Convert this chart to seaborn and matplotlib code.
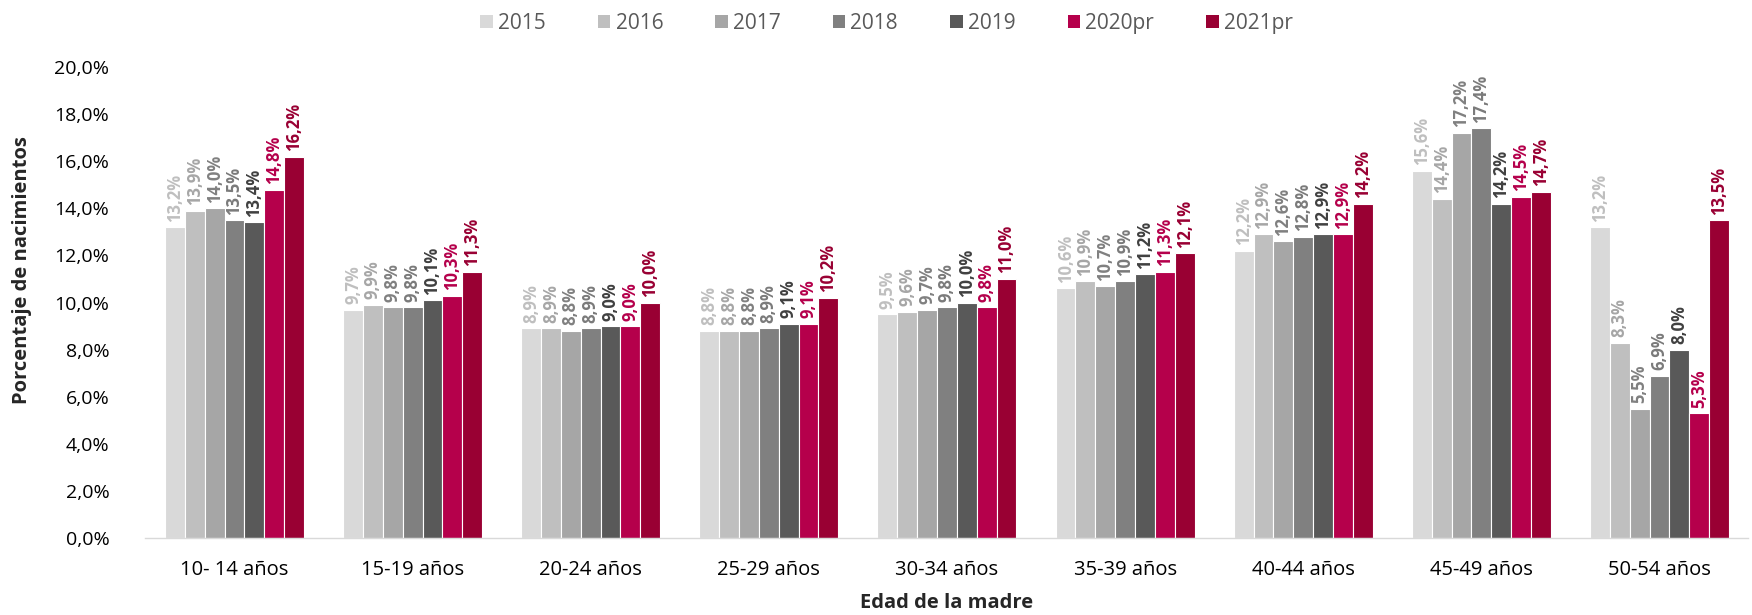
import matplotlib
matplotlib.use("Agg")
import matplotlib.pyplot as plt
import seaborn as sns
import pandas as pd
from matplotlib.patches import Patch

categories = ["10- 14 años", "15-19 años", "20-24 años", "25-29 años", "30-34 años",
              "35-39 años", "40-44 años", "45-49 años", "50-54 años"]
years = ["2015", "2016", "2017", "2018", "2019", "2020pr", "2021pr"]
v2015 = [13.2, 9.7, 8.9, 8.8, 9.5, 10.6, 12.2, 15.6, 13.2]
v2016 = [13.9, 9.9, 8.9, 8.8, 9.6, 10.9, 12.9, 14.4, 8.3]
v2017 = [14.0, 9.8, 8.8, 8.8, 9.7, 10.7, 12.6, 17.2, 5.5]
v2018 = [13.5, 9.8, 8.9, 8.9, 9.8, 10.9, 12.8, 17.4, 6.9]
v2019 = [13.4, 10.1, 9.0, 9.1, 10.0, 11.2, 12.9, 14.2, 8.0]
v2020 = [14.8, 10.3, 9.0, 9.1, 9.8, 11.3, 12.9, 14.5, 5.3]
v2021 = [16.2, 11.3, 10.0, 10.2, 11.0, 12.1, 14.2, 14.7, 13.5]
series = [v2015, v2016, v2017, v2018, v2019, v2020, v2021]

bar_colors = ["#d9d9d9", "#bfbfbf", "#a6a6a6", "#808080", "#595959", "#b5004b", "#990033"]
label_colors = ["#bfbfbf", "#a6a6a6", "#808080", "#7a7a7a", "#404040", "#b5004b", "#990033"]

rows = []
for y, vals in zip(years, series):
    for c, v in zip(categories, vals):
        rows.append({"Edad": c, "Año": y, "Valor": v})
df = pd.DataFrame(rows)

sns.set_style("white")
plt.rcParams["font.family"] = ["Open Sans", "DejaVu Sans"]

fig = plt.figure(figsize=(17.52, 6.15), dpi=100)
ax = fig.add_axes([0.083, 0.125, 0.915, 0.766])

sns.barplot(data=df, x="Edad", y="Valor", hue="Año", order=categories, hue_order=years,
            palette=bar_colors, width=0.78, edgecolor="white", linewidth=0.8,
            saturation=1, ax=ax, legend=False)

for cont, vals, col in zip(ax.containers, series, label_colors):
    labels = [f"{v:.1f}%".replace(".", ",") for v in vals]
    ax.bar_label(cont, labels=labels, rotation=90, padding=4, color=col,
                 fontsize=12, fontweight="bold")

ax.set_ylim(0, 20)
ax.set_yticks([i * 2 for i in range(11)])
ax.set_yticklabels([f"{i*2:.1f}%".replace(".", ",") for i in range(11)], fontsize=14, color="#000000")
ax.tick_params(axis="x", labelsize=14.5, colors="#000000", length=0, pad=16)
ax.tick_params(axis="y", length=0, pad=26)
ax.set_xlim(-0.5, len(categories) - 0.5)

for s in ["top", "right", "left"]:
    ax.spines[s].set_visible(False)
ax.spines["bottom"].set_color("#d9d9d9")
ax.spines["bottom"].set_linewidth(1)

ax.set_xlabel("Edad de la madre", fontsize=14.5, fontweight="bold", labelpad=9)
ax.set_ylabel("Porcentaje de nacimientos", fontsize=14.5, fontweight="bold")
ax.yaxis.set_label_coords(-0.0705, 0.569)

handles = [Patch(facecolor=c, edgecolor="none") for c in bar_colors]
fig.legend(handles, years, loc="upper center", bbox_to_anchor=(0.506, 1.01), ncol=7,
           frameon=False, fontsize=15, labelcolor="#595959", handlelength=0.6,
           handleheight=0.6, handletextpad=0.25, columnspacing=2.5)

fig.savefig("out.png", dpi=100)
